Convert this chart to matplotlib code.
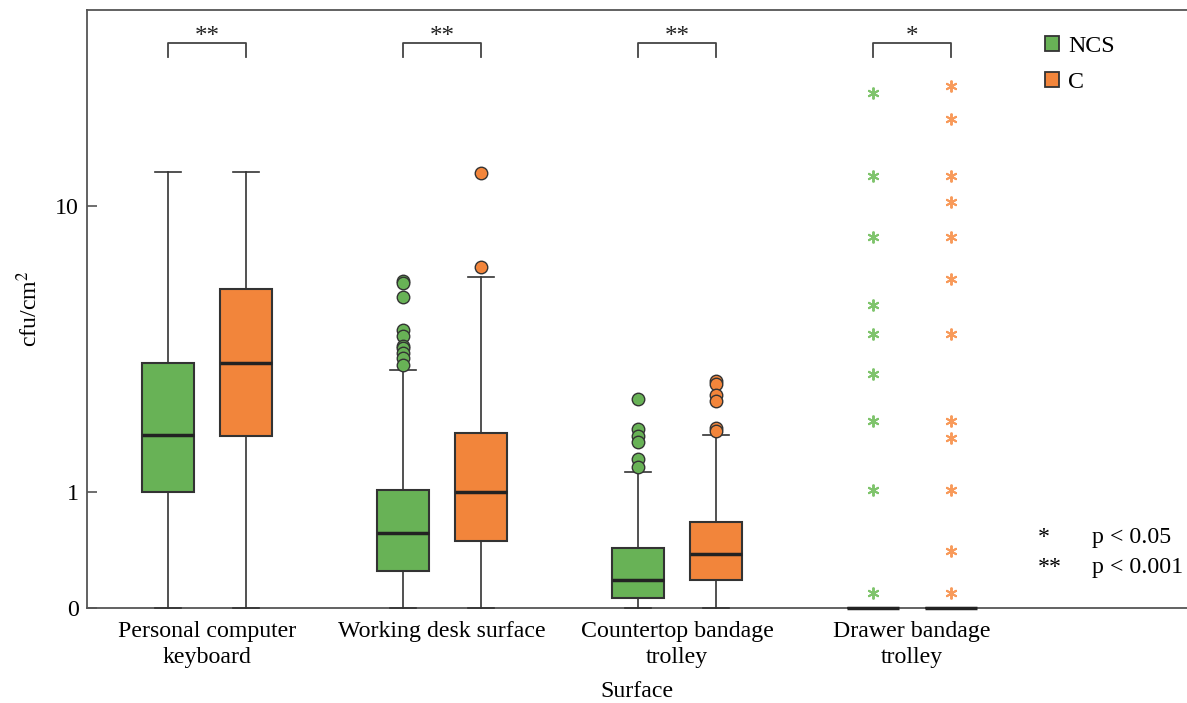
import numpy as np
import matplotlib
matplotlib.use("Agg")
import matplotlib.pyplot as plt
from matplotlib.patches import Patch
import matplotlib.transforms as mtransforms

plt.rcParams['font.family'] = ['Liberation Serif', 'DejaVu Serif']
plt.rcParams['mathtext.fontset'] = 'stix'

# surfaces and groups
surfaces = ["Personal computer\nkeyboard", "Working desk surface",
            "Countertop bandage\ntrolley", "Drawer bandage\ntrolley"]
groups = ["NCS", "C"]

# box statistics (cfu/cm2)
ncs_q1 = [1.0, 0.25, 0.06, 0.0]
ncs_med = [1.81, 0.565, 0.18, 0.0]
ncs_q3 = [3.31, 1.02, 0.43, 0.0]
ncs_lo = [0.0, 0.0, 0.0, 0.0]
ncs_hi = [12.5, 3.14, 1.25, 0.0]
ncs_fliers = [
    [],
    [6.03, 5.95, 5.39, 4.25, 4.07, 3.77, 3.72, 3.58, 3.44, 3.26],
    [2.48, 1.91, 1.79, 1.69, 1.43, 1.32],
    [20.6, 12.2, 8.14, 5.1, 4.13, 3.04, 2.05, 1.02, 0.094],
]

c_q1 = [1.79, 0.49, 0.18, 0.0]
c_med = [3.31, 1.0, 0.38, 0.0]
c_q3 = [5.7, 1.84, 0.67, 0.0]
c_lo = [0.0, 0.0, 0.0, 0.0]
c_hi = [12.5, 6.2, 1.81, 0.0]
c_fliers = [
    [],
    [6.66, 12.4],
    [2.87, 2.80, 2.56, 2.44, 1.93, 1.87],
    [21.5, 17.5, 12.2, 10.3, 8.14, 6.12, 4.13, 2.05, 1.76, 1.02, 0.405, 0.094],
]

signif = ["**", "**", "**", "*"]

green = '#68b256'
orange = '#f2853b'
green_l = '#7fc46c'
orange_l = '#f89a5a'
edge = '#333333'
fs = 17.2


def fwd(v):
    return np.log10(1 + np.clip(v, -0.999, None))


def inv(v):
    return 10 ** v - 1


fig = plt.figure(figsize=(11.87, 7.03), dpi=100)
ax = fig.add_axes([87 / 1187, 95 / 703, 1 - 87 / 1187, 598 / 703])
ax.set_yscale('function', functions=(fwd, inv))

offset = 0.166
bw = 0.221
capw = 0.11

series = [
    (ncs_q1, ncs_med, ncs_q3, ncs_lo, ncs_hi, ncs_fliers, green, green_l, -offset),
    (c_q1, c_med, c_q3, c_lo, c_hi, c_fliers, orange, orange_l, offset),
]

for q1s, meds, q3s, los, his, fls, col, col_l, off in series:
    for i in range(len(surfaces)):
        st = [dict(q1=q1s[i], med=meds[i], q3=q3s[i], whislo=los[i],
                   whishi=his[i], fliers=fls[i])]
        if i == 3:
            fp = dict(marker=(6, 2, 0), markersize=8.5, markeredgecolor=col_l,
                      markeredgewidth=1.4, linestyle='none')
        else:
            fp = dict(marker='o', markersize=9, markerfacecolor=col,
                      markeredgecolor=edge, markeredgewidth=1.0, linestyle='none')
        art = ax.bxp(st, positions=[i + off], widths=bw, capwidths=capw,
                     patch_artist=True, manage_ticks=False,
                     boxprops=dict(facecolor=col, edgecolor=edge, linewidth=1.5),
                     medianprops=dict(color='#222222', linewidth=2.5),
                     whiskerprops=dict(color=edge, linewidth=1.2),
                     capprops=dict(color=edge, linewidth=1.2),
                     flierprops=fp)
        for key in art:
            for a in art[key]:
                a.set_clip_on(False)
                a.set_zorder(3)

ax.set_xlim(-0.51, 4.17)
ax.set_ylim(0, 34.5)
ax.set_yticks([0, 1, 10])
ax.set_yticklabels(['0', '1', '10'])
ax.yaxis.set_minor_locator(matplotlib.ticker.NullLocator())
ax.set_xticks(range(len(surfaces)))
ax.set_xticklabels(surfaces, fontsize=fs, linespacing=1.35)
ax.tick_params(axis='x', length=0, pad=9)
ax.tick_params(axis='y', direction='in', length=7, width=1.2, color='#555555',
               labelsize=fs, pad=6)

for s in ['left', 'top', 'bottom']:
    ax.spines[s].set_color('#555555')
    ax.spines[s].set_linewidth(1.3)
ax.spines['right'].set_visible(False)

ax.set_ylabel('cfu/cm$^2$', fontsize=fs, labelpad=9)
ax.set_xlabel('Surface', fontsize=fs, labelpad=9)

# significance brackets
trans = mtransforms.blended_transform_factory(ax.transData, ax.transAxes)
for i, s in enumerate(signif):
    x1, x2 = i - offset, i + offset
    ax.plot([x1, x1, x2, x2], [0.921, 0.945, 0.945, 0.921], color='#444444',
            lw=1.3, transform=trans, clip_on=False)
    ax.text(i, 0.937, s, ha='center', va='bottom', fontsize=18, transform=trans,
            color='#222222')

# legend
handles = [Patch(facecolor=green, edgecolor=edge, linewidth=1.3),
           Patch(facecolor=orange, edgecolor=edge, linewidth=1.3)]
ax.legend(handles, groups, loc='upper left', bbox_to_anchor=(0.851, 0.993),
          frameon=False, fontsize=fs, handlelength=0.6, handleheight=0.6,
          handletextpad=0.4, labelspacing=0.65)

# p-value key
ax.text(0.864, 0.118, '*', transform=ax.transAxes, fontsize=fs, va='center')
ax.text(0.914, 0.118, 'p < 0.05', transform=ax.transAxes, fontsize=fs, va='center')
ax.text(0.864, 0.068, '**', transform=ax.transAxes, fontsize=fs, va='center')
ax.text(0.914, 0.068, 'p < 0.001', transform=ax.transAxes, fontsize=fs, va='center')

fig.savefig('out.png', dpi=100)
